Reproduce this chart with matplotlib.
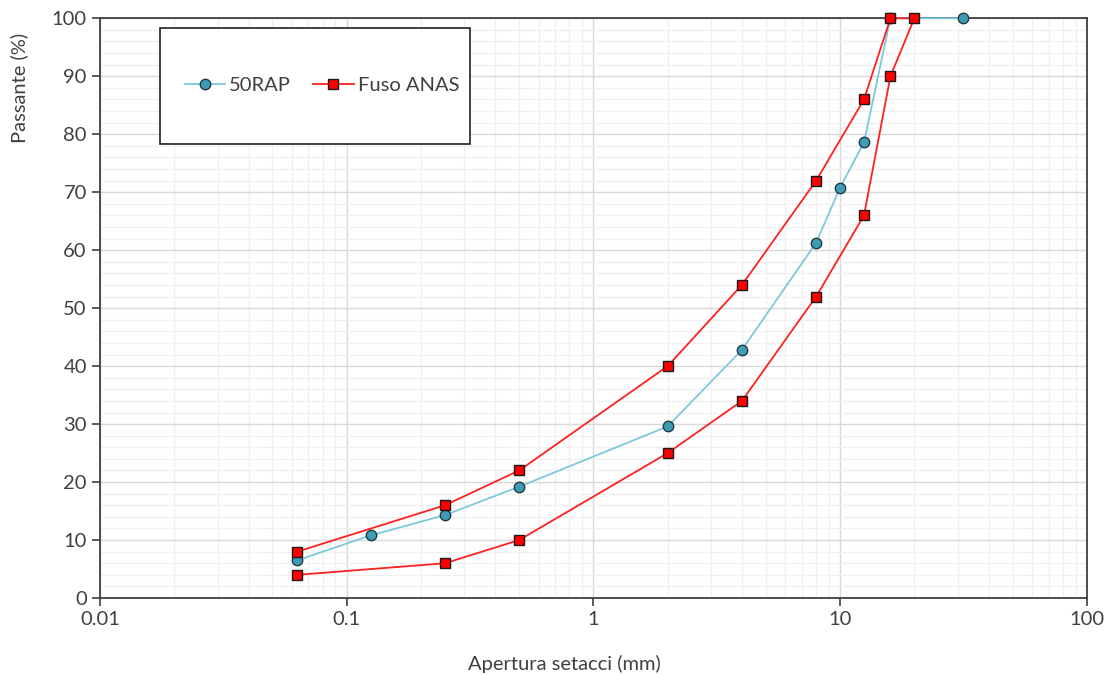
import matplotlib.pyplot as plt
from matplotlib.patches import Rectangle
from matplotlib.ticker import LogLocator, MultipleLocator, FixedFormatter, FixedLocator

plt.rcParams['font.family'] = ['Lato', 'DejaVu Sans']

# 50RAP grading curve
rap_sieve = [0.063, 0.125, 0.25, 0.5, 2, 4, 8, 10, 12.5, 16, 31.5]
rap_pass = [6.5, 10.8, 14.3, 19.2, 29.6, 42.8, 61.3, 70.8, 78.6, 100, 100]

# Fuso ANAS envelope (upper limit then lower limit back)
fuso_sieve = [0.063, 0.25, 0.5, 2, 4, 8, 12.5, 16, 20, 16, 12.5, 8, 4, 2, 0.5, 0.25, 0.063]
fuso_pass = [8, 16, 22, 40, 54, 72, 86, 100, 100, 90, 66, 52, 34, 25, 10, 6, 4]

xticks = [0.01, 0.1, 1, 10, 100]
xtick_labels = ['0.01', '0.1', '1', '10', '100']

txt = '#404040'
fs = 14.5

fig = plt.figure(figsize=(11.1, 6.75), dpi=100)
ax = fig.add_axes([0.0901, 0.114, 0.889, 0.859])

ax.plot(rap_sieve, rap_pass, color='#7EC8DC', lw=1.3, marker='o', ms=7.5,
        mfc='#3E9DB5', mec='#1F3A44', mew=1.0, label='50RAP', zorder=3,
        clip_on=False)
ax.plot(fuso_sieve, fuso_pass, color='#FF2020', lw=1.3, marker='s', ms=7.5,
        mfc='#FF0000', mec='#1A1A1A', mew=1.0, label='Fuso ANAS', zorder=4,
        clip_on=False)

ax.set_xscale('log')
ax.set_xlim(0.01, 100)
ax.set_ylim(0, 100)
ax.xaxis.set_major_locator(FixedLocator(xticks))
ax.xaxis.set_major_formatter(FixedFormatter(xtick_labels))
ax.xaxis.set_minor_locator(LogLocator(base=10, subs=range(2, 10)))
ax.xaxis.set_minor_formatter(FixedFormatter([]))
ax.yaxis.set_major_locator(MultipleLocator(10))
ax.yaxis.set_minor_locator(MultipleLocator(2))

ax.grid(which='major', color='#D9D9D9', lw=1.0)
ax.grid(which='minor', color='#F0F0F0', lw=1.0)
ax.set_axisbelow(True)

ax.tick_params(which='major', direction='out', length=6, width=1.2,
               colors='#404040', labelsize=fs, labelcolor=txt)
ax.tick_params(which='minor', length=0)
for s in ax.spines.values():
    s.set_color('#404040')
    s.set_linewidth(1.3)

ax.set_xlabel('Apertura setacci (mm)', fontsize=fs, color=txt)
ax.set_ylabel('Passante (%)', fontsize=fs, color=txt)
ax.xaxis.set_label_coords(0.471, -0.098)
ax.yaxis.set_label_coords(-0.073, 0.879)

ax.add_patch(Rectangle((0.061, 0.783), 0.314, 0.201, transform=ax.transAxes,
                       facecolor='white', edgecolor='#202020', lw=1.2,
                       zorder=5))
ax.legend(loc='center', bbox_to_anchor=(0.068, 0.783, 0.314, 0.201), ncol=2,
          frameon=False, fontsize=fs, handlelength=2.0, handletextpad=0.2,
          columnspacing=1.1, labelcolor=txt).set_zorder(6)

fig.savefig('out.png', dpi=100)
